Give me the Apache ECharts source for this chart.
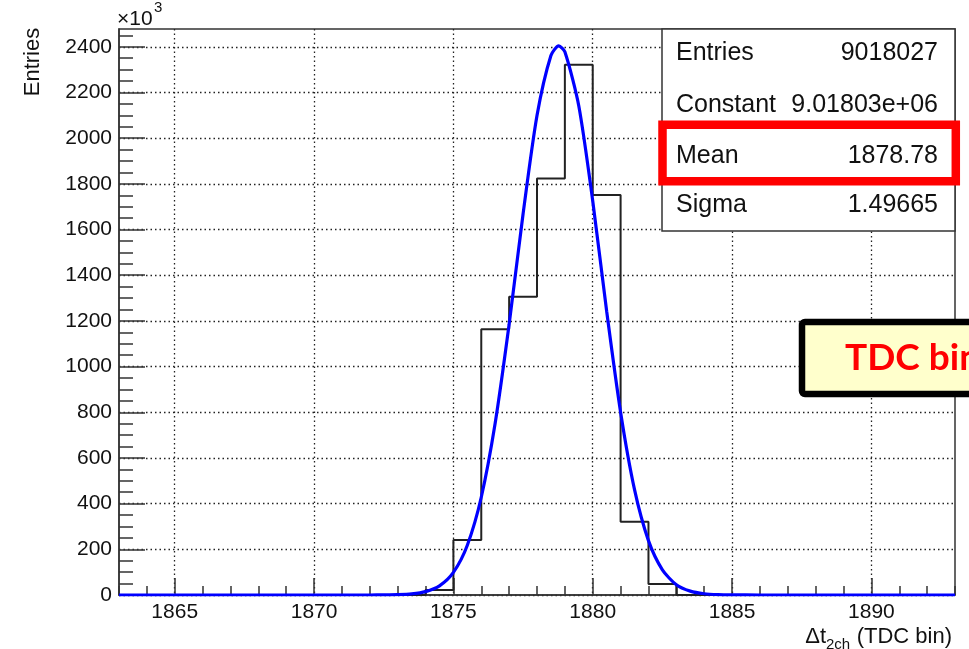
<!DOCTYPE html>
<html><head><meta charset="utf-8">
<script src="https://cdn.jsdelivr.net/npm/echarts@6/dist/echarts.min.js"></script>
<style>html,body{margin:0;padding:0;background:#fff}#c{width:969px;height:649px}</style>
</head><body><div id="c"></div>
<script>
// Histogram: lower bin edges and counts (x10^3)
const binLowEdges = [1863, 1873, 1874, 1875, 1876, 1877, 1878, 1879, 1880, 1881, 1882, 1883, 1893];
const binCounts   = [0, 0, 22, 241, 1164, 1306, 1824, 2322, 1751, 321, 48, 0, 0];
// Gaussian fit curve (x10^3)
const fitX = [1863, 1871, 1872, 1872.5, 1873, 1873.5, 1874, 1874.5, 1875, 1875.5, 1876, 1876.5, 1877, 1877.5, 1878, 1878.5, 1878.78, 1879, 1879.5, 1880, 1880.5, 1881, 1881.5, 1882, 1882.5, 1883, 1883.5, 1884, 1884.5, 1885, 1886, 1893];
const fitY = [0, 0, 0.1, 0.4, 1.4, 4.8, 14.7, 40, 99, 218, 428, 753, 1185, 1668, 2099, 2362, 2404, 2378, 2141, 1725, 1242, 800, 461, 238, 110, 45, 17, 5.5, 1.6, 0.5, 0, 0];
const xTickLabels = [1865, 1870, 1875, 1880, 1885, 1890];
const yTickLabels = [0, 200, 400, 600, 800, 1000, 1200, 1400, 1600, 1800, 2000, 2200, 2400];
const statsNames  = ['Entries', 'Constant', 'Mean', 'Sigma'];
const statsValues = ['9018027', '9.01803e+06', '1878.78', '1.49665'];

const X_MIN = 1863, X_MAX = 1893, Y_MAX = 2478;
const xMinor = []; for (let v = X_MIN; v <= X_MAX; v += 1) xMinor.push(v);
const yMinor = []; for (let v = 0; v <= 2450; v += 50) yMinor.push(v);

const FONT = '"Liberation Sans", Arial, Helvetica, sans-serif';
const AX = '#333';

const chart = echarts.init(document.getElementById('c'), null, {renderer: 'canvas'});
const histData = binLowEdges.map((x, i) => [x, binCounts[i]]);
const fitData = fitX.map((x, i) => [x, fitY[i]]);

const statsRowsY = [53, 105, 156.5, 205];
const graphics = [];
graphics.push({type: 'rect', z: 50, shape: {x: 662, y: 29, width: 293, height: 202},
  style: {fill: '#fff', stroke: AX, lineWidth: 1.5}});
statsNames.forEach((n, i) => {
  graphics.push({type: 'text', z: 51, style: {text: n, x: 676, y: statsRowsY[i], fill: '#111',
    fontSize: 25, fontFamily: FONT, align: 'left', verticalAlign: 'middle'}});
  graphics.push({type: 'text', z: 51, style: {text: statsValues[i], x: 938, y: statsRowsY[i], fill: '#111',
    fontSize: 25, fontFamily: FONT, align: 'right', verticalAlign: 'middle'}});
});
graphics.push({type: 'rect', z: 52, shape: {x: 662.5, y: 124.7, width: 293.3, height: 56.5},
  style: {fill: 'none', stroke: '#ff0000', lineWidth: 8.5}});
graphics.push({type: 'rect', z: 60, shape: {x: 802, y: 322, width: 220, height: 72, r: 3},
  style: {fill: '#ffffcc', stroke: '#000', lineWidth: 6.5}});
graphics.push({type: 'text', z: 61, style: {text: 'TDC bin', x: 845, y: 358, fill: '#ff0000',
  fontSize: 37, fontWeight: 'bold', fontFamily: 'Lato, "Open Sans", sans-serif', align: 'left', verticalAlign: 'middle'}});
graphics.push({type: 'text', z: 51, x: 33, y: 62, rotation: Math.PI / 2,
  style: {text: 'Entries', fill: '#111', fontSize: 22, fontFamily: FONT, align: 'center', verticalAlign: 'middle'}});
graphics.push({type: 'text', z: 51, style: {text: '\u00d710', x: 117, y: 19, fill: '#111', fontSize: 21,
  fontFamily: FONT, align: 'left', verticalAlign: 'middle'}});
graphics.push({type: 'text', z: 51, style: {text: '3', x: 154, y: 8, fill: '#111', fontSize: 15,
  fontFamily: FONT, align: 'left', verticalAlign: 'middle'}});
graphics.push({type: 'text', z: 51, style: {text: '(TDC bin)', x: 952, y: 637, fill: '#111', fontSize: 22,
  fontFamily: FONT, align: 'right', verticalAlign: 'middle'}});
graphics.push({type: 'text', z: 51, style: {text: '2ch', x: 826, y: 645, fill: '#111', fontSize: 15,
  fontFamily: FONT, align: 'left', verticalAlign: 'middle'}});
graphics.push({type: 'text', z: 51, style: {text: '\u0394t', x: 826, y: 637, fill: '#111', fontSize: 22,
  fontFamily: FONT, align: 'right', verticalAlign: 'middle'}});

const plain = v => String(v);
const GRIDLINE = {show: true, lineStyle: {color: '#222', type: [1.5, 3], width: 1.3}};
const option = {
  animation: false,
  backgroundColor: '#fff',
  grid: {left: 119, right: 14, top: 29, bottom: 54, show: true, borderColor: AX, borderWidth: 1.5, backgroundColor: 'transparent'},
  xAxis: [
    {type: 'value', min: X_MIN, max: X_MAX, position: 'bottom',
      axisLine: {show: true, onZero: false, lineStyle: {color: AX, width: 1.5}},
      axisTick: {show: true, inside: true, length: 17, customValues: xTickLabels, lineStyle: {color: AX, width: 1.5}},
      axisLabel: {show: true, customValues: xTickLabels, formatter: plain, fontSize: 21, color: '#111', fontFamily: FONT, margin: 7},
      splitLine: GRIDLINE},
    {type: 'value', min: X_MIN, max: X_MAX, interval: 1, position: 'bottom',
      axisLine: {show: false}, axisLabel: {show: false}, splitLine: {show: false},
      axisTick: {show: true, inside: true, length: 9, customValues: xMinor, lineStyle: {color: AX, width: 1.5}}}
  ],
  yAxis: [
    {type: 'value', min: 0, max: Y_MAX, interval: 200, position: 'left',
      axisLine: {show: true, onZero: false, lineStyle: {color: AX, width: 1.5}},
      axisTick: {show: true, inside: true, length: 26, customValues: yTickLabels, lineStyle: {color: AX, width: 1.5}},
      axisLabel: {show: true, customValues: yTickLabels, formatter: plain, fontSize: 21, color: '#111', fontFamily: FONT, margin: 7},
      splitLine: GRIDLINE},
    {type: 'value', min: 0, max: Y_MAX, interval: 50, position: 'left',
      axisLine: {show: false}, axisLabel: {show: false}, splitLine: {show: false},
      axisTick: {show: true, inside: true, length: 14, customValues: yMinor, lineStyle: {color: AX, width: 1.5}}}
  ],
  series: [
    {type: 'line', name: 'hist', data: histData, step: 'end', symbol: 'none', xAxisIndex: 0, yAxisIndex: 0,
      lineStyle: {color: '#222', width: 2}, z: 3},
    {type: 'line', name: 'fit', data: fitData, smooth: 0.25, symbol: 'none', xAxisIndex: 0, yAxisIndex: 0,
      lineStyle: {color: '#0000ff', width: 3.2}, z: 4}
  ],
  graphic: graphics
};
chart.setOption(option);
</script></body></html>
